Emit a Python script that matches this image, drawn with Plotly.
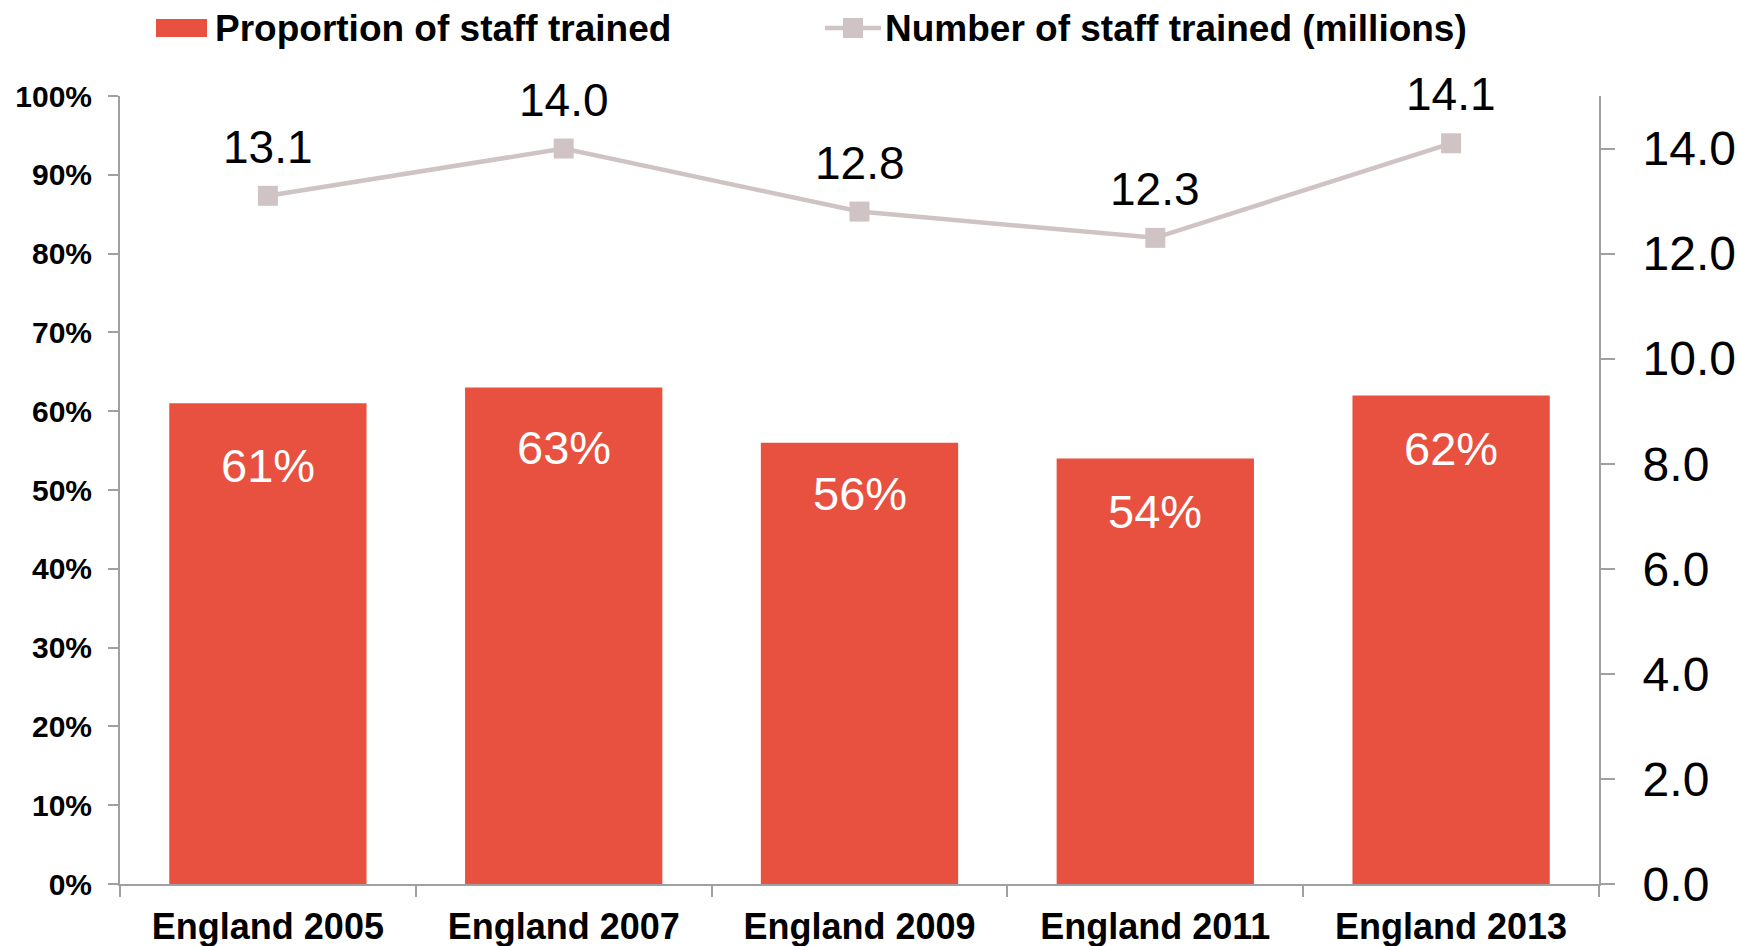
import plotly.graph_objects as go

# Survey waves and results
categories = ["England 2005", "England 2007", "England 2009", "England 2011", "England 2013"]
proportion_trained = [61, 63, 56, 54, 62]          # percent of staff trained
number_trained = [13.1, 14.0, 12.8, 12.3, 14.1]    # millions of staff trained
left_ticks = [0, 10, 20, 30, 40, 50, 60, 70, 80, 90, 100]
right_ticks = [0, 2, 4, 6, 8, 10, 12, 14]

BAR_RED = "#E8513F"
LINE_GREY = "#CFC3C4"
AXIS_GREY = "#A0A0A0"
FONT = "Liberation Sans, Arial, sans-serif"

# Pixel drop of each in-bar label below its bar top
BAR_LABEL_DROP = [62, 60, 51, 53, 53]

W, H = 1737, 946
L, R, T, B = 120, 138, 96, 62
plot_w = W - L - R
plot_h = H - T - B


def px_x(px):
    return (px - L) / plot_w


def px_y(py):
    return (H - B - py) / plot_h


fig = go.Figure()

fig.add_trace(go.Bar(
    x=categories,
    y=[v / 100 for v in proportion_trained],
    marker=dict(color=BAR_RED, line=dict(width=0)),
    name="Proportion of staff trained",
    yaxis="y",
    showlegend=False,
))

fig.add_trace(go.Scatter(
    x=categories,
    y=number_trained,
    mode="lines+markers",
    line=dict(color=LINE_GREY, width=4.5),
    marker=dict(symbol="square", size=20, color=LINE_GREY),
    name="Number of staff trained (millions)",
    yaxis="y2",
    showlegend=False,
))

annotations = []
# Percent labels inside the bars
for cat, v, drop in zip(categories, proportion_trained, BAR_LABEL_DROP):
    annotations.append(dict(
        x=cat, y=v / 100, xref="x", yref="y",
        text=f"{v}%", showarrow=False, yanchor="middle", yshift=-drop,
        font=dict(family=FONT, size=47, color="white"),
    ))
# Value labels above the line markers
for cat, v in zip(categories, number_trained):
    annotations.append(dict(
        x=cat, y=v, xref="x", yref="y2",
        text=f"{v:.1f}", showarrow=False, yanchor="middle", yshift=49,
        font=dict(family=FONT, size=46, color="black"),
    ))

# Legend entries
annotations.append(dict(
    x=px_x(213), y=px_y(28), xref="paper", yref="paper",
    text="Proportion of staff trained", showarrow=False,
    xanchor="left", yanchor="middle",
    font=dict(family=FONT, size=37, color="black", weight="bold"),
))
annotations.append(dict(
    x=px_x(883), y=px_y(28), xref="paper", yref="paper",
    text="Number of staff trained (millions)", showarrow=False,
    xanchor="left", yanchor="middle",
    font=dict(family=FONT, size=37, color="black", weight="bold"),
))

shapes = [
    dict(type="rect", xref="paper", yref="paper",
         x0=px_x(156), x1=px_x(207), y0=px_y(37), y1=px_y(19),
         fillcolor=BAR_RED, line=dict(width=0)),
    dict(type="line", xref="paper", yref="paper",
         x0=px_x(825), x1=px_x(881), y0=px_y(28), y1=px_y(28),
         line=dict(color=LINE_GREY, width=4.5)),
    dict(type="rect", xref="paper", yref="paper",
         x0=px_x(843), x1=px_x(863), y0=px_y(38), y1=px_y(18),
         fillcolor=LINE_GREY, line=dict(width=0)),
]

fig.update_layout(
    width=W, height=H,
    margin=dict(l=L, r=R, t=T, b=B, autoexpand=False),
    paper_bgcolor="white", plot_bgcolor="white",
    bargap=0.333,
    showlegend=False,
    annotations=annotations,
    shapes=shapes,
    xaxis=dict(
        type="category", automargin=False,
        showline=True, linecolor=AXIS_GREY, linewidth=2,
        ticks="outside", tickson="boundaries", ticklen=11, tickwidth=1.5, tickcolor=AXIS_GREY,
        tickfont=dict(family=FONT, size=36, color="black", weight="bold"),
        ticklabelstandoff=10,
        showgrid=False, zeroline=False,
    ),
    yaxis=dict(
        range=[0, 1], automargin=False,
        tickvals=[t / 100 for t in left_ticks],
        ticktext=[f"{t}%" for t in left_ticks],
        showline=True, linecolor=AXIS_GREY, linewidth=2,
        ticks="outside", ticklen=10, tickwidth=1.5, tickcolor=AXIS_GREY,
        tickfont=dict(family=FONT, size=30, color="black", weight="bold"),
        ticklabelstandoff=10,
        showgrid=False, zeroline=False,
    ),
    yaxis2=dict(
        range=[0, 15], automargin=False,
        overlaying="y", side="right",
        tickvals=right_ticks,
        ticktext=[f"{t:.1f}" for t in right_ticks],
        showline=True, linecolor=AXIS_GREY, linewidth=2,
        ticks="outside", ticklen=14, tickwidth=1.5, tickcolor=AXIS_GREY,
        tickfont=dict(family=FONT, size=48, color="black"),
        ticklabelstandoff=18,
        showgrid=False, zeroline=False,
    ),
)

fig.write_html("out.html")
